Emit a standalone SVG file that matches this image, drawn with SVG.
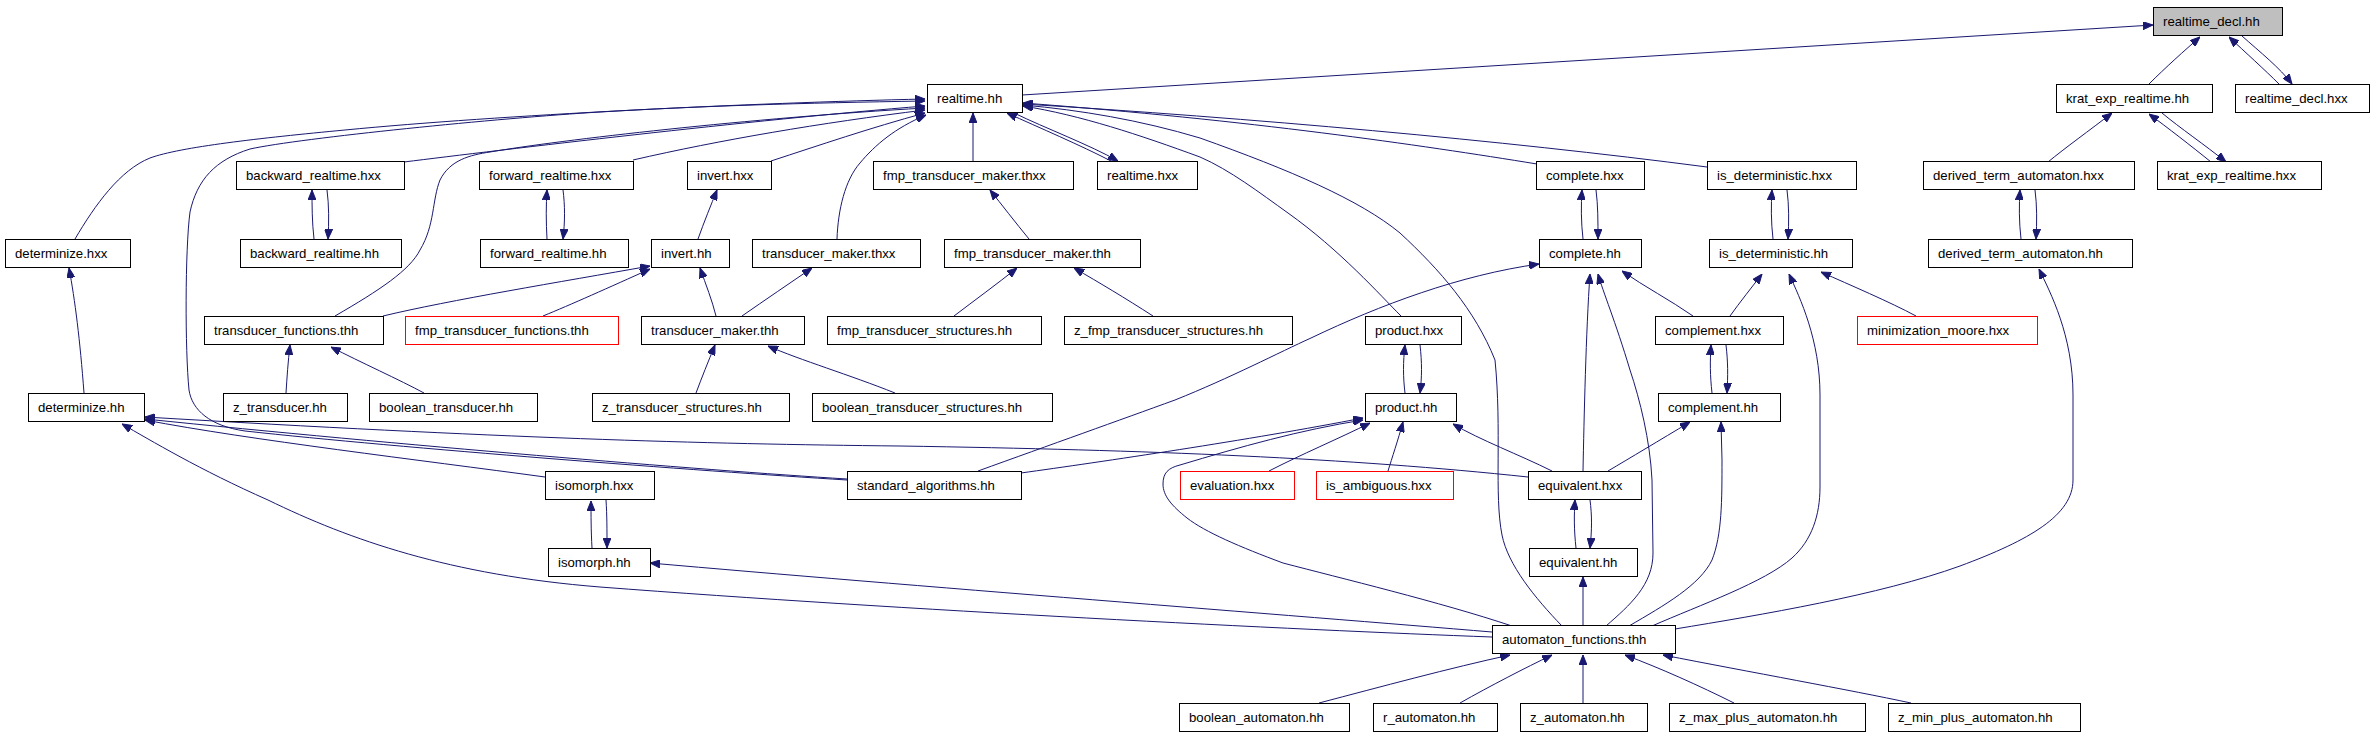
<svg xmlns="http://www.w3.org/2000/svg" width="2373" height="736" viewBox="0 0 2373 736">
<defs>
<style>
.b{fill:#ffffff;stroke:#000000;stroke-width:1}
.g{fill:#bfbfbf;stroke:#000000;stroke-width:1}
.r{fill:#ffffff;stroke:#ff0000;stroke-width:1}
text{font-family:"Liberation Sans",Arial,Helvetica,sans-serif;font-size:13.2px;fill:#000000}
#edges path{fill:none;stroke:#191970;stroke-width:1;marker-end:url(#ah)}
</style>
<marker id="ah" viewBox="0 0 10 8" refX="10" refY="4" markerWidth="10" markerHeight="8" orient="auto" markerUnits="userSpaceOnUse">
<path d="M0,0L10,4L0,8z" fill="#191970" stroke="#191970" stroke-width="1"/>
</marker>
</defs>
<rect width="2373" height="736" fill="#ffffff"/>
<g id="edges">
<path d="M1022,95 L2153,25"/>
<path d="M2149,84 C2165,68 2185,50 2200,37"/>
<path d="M2279,84 C2265,70 2245,52 2229,37"/>
<path d="M2242,36 C2260,52 2280,68 2292,84"/>
<path d="M2048,162 C2065,148 2090,130 2112,113"/>
<path d="M2211,162 C2190,145 2168,128 2149,114"/>
<path d="M2162,113 C2180,128 2205,145 2226,162"/>
<path d="M2021,239 C2019,222 2019,205 2020,190"/>
<path d="M2035,190 C2037,205 2037,222 2036,239"/>
<path d="M1675,629 C1760,615 1880,595 1960,566 C2030,540 2073,515 2073,480 L2073,395 C2073,335 2050,292 2039,269"/>
<path d="M1652,626 C1700,605 1765,582 1792,558 C1812,540 1820,515 1820,487 L1820,395 C1820,340 1800,298 1789,274"/>
<path d="M1730,316 C1740,302 1752,287 1762,274"/>
<path d="M1916,316 C1890,302 1850,285 1821,272"/>
<path d="M1773,239 C1771,222 1771,205 1772,190"/>
<path d="M1787,190 C1789,205 1789,222 1788,239"/>
<path d="M1583,239 C1581,222 1581,205 1582,190"/>
<path d="M1596,190 C1598,205 1598,222 1598,239"/>
<path d="M1583,471 C1584,420 1586,330 1590,274"/>
<path d="M1606,626 C1630,605 1653,585 1653,553 L1652,480 C1650,440 1640,400 1630,370 C1615,320 1603,292 1598,274"/>
<path d="M1693,316 C1670,300 1645,287 1622,271"/>
<path d="M978,471 C1050,445 1120,420 1175,400 C1230,378 1280,352 1311,338 C1380,305 1460,275 1539,264"/>
<path d="M1712,393 C1710,375 1710,362 1711,345"/>
<path d="M1726,345 C1728,362 1728,375 1727,393"/>
<path d="M1629,626 C1665,605 1700,585 1712,560 C1722,535 1722,500 1722,460 L1721,422"/>
<path d="M1608,471 C1630,458 1660,440 1690,422"/>
<path d="M1405,393 C1403,377 1403,362 1405,345"/>
<path d="M1420,345 C1422,362 1422,377 1420,393"/>
<path d="M1269,471 C1300,455 1340,438 1370,423"/>
<path d="M1388,471 C1392,458 1398,440 1403,422"/>
<path d="M1552,471 C1520,455 1480,440 1453,424"/>
<path d="M1021,473 C1100,462 1250,440 1363,418"/>
<path d="M1512,626 C1440,602 1340,578 1283,563 C1240,547 1205,532 1187,518 C1172,506 1163,496 1163,484 C1163,473 1168,468 1180,465 C1240,447 1300,430 1363,420"/>
<path d="M1576,548 C1574,530 1574,515 1575,500"/>
<path d="M1590,500 C1592,515 1592,530 1590,548"/>
<path d="M1583,626 L1583,577"/>
<path d="M1319,703 C1380,687 1450,668 1510,655"/>
<path d="M1460,703 C1490,686 1525,668 1552,655"/>
<path d="M1583,703 L1583,655"/>
<path d="M1734,703 C1700,686 1660,668 1625,655"/>
<path d="M1911,703 C1850,690 1750,672 1663,655"/>
<path d="M1492,632 C1300,616 900,585 650,563"/>
<path d="M1492,637 C1300,630 900,610 600,587 C450,575 350,540 268,500 C200,470 150,440 122,424"/>
<path d="M592,548 C591,530 591,515 591,501"/>
<path d="M606,500 C607,515 607,530 607,548"/>
<path d="M545,477 C420,460 250,440 145,420"/>
<path d="M847,479 C700,470 400,445 145,419"/>
<path d="M1528,477 C1350,458 1150,450 900,446 C700,444 500,438 145,417"/>
<path d="M847,480 C700,471 400,448 245,431 C210,426 192,410 189,390 C185,350 185,250 190,212 C197,180 215,160 250,149 C300,138 500,118 600,112 C700,106 800,103 925,101"/>
<path d="M75,239 C95,205 120,170 150,158 C180,147 260,138 345,130 C500,115 750,103 925,99"/>
<path d="M404,162 C500,150 750,120 925,106"/>
<path d="M335,316 C380,290 410,270 420,250 C435,225 432,200 440,180 C450,160 470,155 490,152 C560,140 750,118 925,108"/>
<path d="M633,160 C720,140 820,123 925,110"/>
<path d="M771,161 C820,145 870,128 925,113"/>
<path d="M837,239 C838,210 845,180 860,163 C875,145 895,128 926,115"/>
<path d="M973,161 L973,113"/>
<path d="M1111,161 C1080,145 1040,128 1007,113"/>
<path d="M1014,113 C1045,128 1090,145 1118,161"/>
<path d="M1537,164 C1420,145 1250,120 1023,103"/>
<path d="M1707,167 C1500,140 1250,118 1023,104"/>
<path d="M1562,626 C1535,598 1508,565 1502,535 C1494,495 1502,430 1495,360 C1475,310 1440,270 1400,233 C1360,200 1290,170 1200,138 C1140,120 1080,110 1023,105"/>
<path d="M1401,316 C1380,295 1340,250 1288,213 C1260,193 1230,170 1200,157 C1140,135 1080,115 1023,106"/>
<path d="M314,239 C312,222 312,205 312,190"/>
<path d="M327,190 C329,205 329,222 328,239"/>
<path d="M547,239 C546,222 546,205 547,190"/>
<path d="M563,190 C565,205 565,222 563,239"/>
<path d="M84,393 C80,340 75,300 69,268"/>
<path d="M286,393 C287,377 288,362 290,345"/>
<path d="M424,393 C400,380 360,362 331,347"/>
<path d="M383,316 C450,300 560,282 650,266"/>
<path d="M543,316 C570,305 610,287 650,269"/>
<path d="M716,316 C712,300 706,285 700,268"/>
<path d="M698,239 C704,222 711,205 717,190"/>
<path d="M742,316 C765,300 790,283 812,268"/>
<path d="M696,393 C702,377 708,362 715,345"/>
<path d="M895,393 C850,375 800,360 768,346"/>
<path d="M1029,239 C1015,222 1002,205 990,190"/>
<path d="M954,316 C975,300 997,284 1017,268"/>
<path d="M1153,316 C1125,298 1100,283 1074,268"/>
</g>
<g id="n_rdh"><rect class="g" x="2153.5" y="7.5" width="129" height="28"/><text x="2163" y="26">realtime_decl.hh</text></g>
<g id="n_rt"><rect class="b" x="927.5" y="84.5" width="95" height="28"/><text x="937" y="103">realtime.hh</text></g>
<g id="n_keh"><rect class="b" x="2056.5" y="84.5" width="156" height="28"/><text x="2066" y="103">krat_exp_realtime.hh</text></g>
<g id="n_rdx"><rect class="b" x="2235.5" y="84.5" width="134" height="28"/><text x="2245" y="103">realtime_decl.hxx</text></g>
<g id="n_brx"><rect class="b" x="236.5" y="161.5" width="168" height="28"/><text x="246" y="180">backward_realtime.hxx</text></g>
<g id="n_frx"><rect class="b" x="479.5" y="161.5" width="154" height="28"/><text x="489" y="180">forward_realtime.hxx</text></g>
<g id="n_ivx"><rect class="b" x="687.5" y="161.5" width="84" height="28"/><text x="697" y="180">invert.hxx</text></g>
<g id="n_fmx"><rect class="b" x="873.5" y="161.5" width="200" height="28"/><text x="883" y="180">fmp_transducer_maker.thxx</text></g>
<g id="n_rtx"><rect class="b" x="1097.5" y="161.5" width="100" height="28"/><text x="1107" y="180">realtime.hxx</text></g>
<g id="n_cpx"><rect class="b" x="1536.5" y="161.5" width="108" height="28"/><text x="1546" y="180">complete.hxx</text></g>
<g id="n_idx"><rect class="b" x="1707.5" y="161.5" width="149" height="28"/><text x="1717" y="180">is_deterministic.hxx</text></g>
<g id="n_dtx"><rect class="b" x="1923.5" y="161.5" width="211" height="28"/><text x="1933" y="180">derived_term_automaton.hxx</text></g>
<g id="n_kex"><rect class="b" x="2157.5" y="161.5" width="164" height="28"/><text x="2167" y="180">krat_exp_realtime.hxx</text></g>
<g id="n_dzx"><rect class="b" x="5.5" y="239.5" width="125" height="28"/><text x="15" y="258">determinize.hxx</text></g>
<g id="n_brh"><rect class="b" x="240.5" y="239.5" width="161" height="28"/><text x="250" y="258">backward_realtime.hh</text></g>
<g id="n_frh"><rect class="b" x="480.5" y="239.5" width="148" height="28"/><text x="490" y="258">forward_realtime.hh</text></g>
<g id="n_ivh"><rect class="b" x="651.5" y="239.5" width="78" height="28"/><text x="661" y="258">invert.hh</text></g>
<g id="n_tmx"><rect class="b" x="752.5" y="239.5" width="168" height="28"/><text x="762" y="258">transducer_maker.thxx</text></g>
<g id="n_fmh"><rect class="b" x="944.5" y="239.5" width="196" height="28"/><text x="954" y="258">fmp_transducer_maker.thh</text></g>
<g id="n_cph"><rect class="b" x="1539.5" y="239.5" width="102" height="28"/><text x="1549" y="258">complete.hh</text></g>
<g id="n_idh"><rect class="b" x="1709.5" y="239.5" width="143" height="28"/><text x="1719" y="258">is_deterministic.hh</text></g>
<g id="n_dth"><rect class="b" x="1928.5" y="239.5" width="204" height="28"/><text x="1938" y="258">derived_term_automaton.hh</text></g>
<g id="n_tfh"><rect class="b" x="204.5" y="316.5" width="179" height="28"/><text x="214" y="335">transducer_functions.thh</text></g>
<g id="n_fth"><rect class="r" x="405.5" y="316.5" width="213" height="28"/><text x="415" y="335">fmp_transducer_functions.thh</text></g>
<g id="n_tmh"><rect class="b" x="641.5" y="316.5" width="163" height="28"/><text x="651" y="335">transducer_maker.thh</text></g>
<g id="n_fsh"><rect class="b" x="827.5" y="316.5" width="214" height="28"/><text x="837" y="335">fmp_transducer_structures.hh</text></g>
<g id="n_zfs"><rect class="b" x="1064.5" y="316.5" width="228" height="28"/><text x="1074" y="335">z_fmp_transducer_structures.hh</text></g>
<g id="n_pdx"><rect class="b" x="1365.5" y="316.5" width="96" height="28"/><text x="1375" y="335">product.hxx</text></g>
<g id="n_cmx"><rect class="b" x="1655.5" y="316.5" width="128" height="28"/><text x="1665" y="335">complement.hxx</text></g>
<g id="n_mmx"><rect class="r" x="1857.5" y="316.5" width="180" height="28"/><text x="1867" y="335">minimization_moore.hxx</text></g>
<g id="n_dzh"><rect class="b" x="28.5" y="393.5" width="116" height="28"/><text x="38" y="412">determinize.hh</text></g>
<g id="n_zth"><rect class="b" x="223.5" y="393.5" width="124" height="28"/><text x="233" y="412">z_transducer.hh</text></g>
<g id="n_bth"><rect class="b" x="369.5" y="393.5" width="168" height="28"/><text x="379" y="412">boolean_transducer.hh</text></g>
<g id="n_zts"><rect class="b" x="592.5" y="393.5" width="197" height="28"/><text x="602" y="412">z_transducer_structures.hh</text></g>
<g id="n_bts"><rect class="b" x="812.5" y="393.5" width="240" height="28"/><text x="822" y="412">boolean_transducer_structures.hh</text></g>
<g id="n_pdh"><rect class="b" x="1365.5" y="393.5" width="91" height="28"/><text x="1375" y="412">product.hh</text></g>
<g id="n_cmh"><rect class="b" x="1658.5" y="393.5" width="122" height="28"/><text x="1668" y="412">complement.hh</text></g>
<g id="n_isx"><rect class="b" x="545.5" y="471.5" width="109" height="28"/><text x="555" y="490">isomorph.hxx</text></g>
<g id="n_sah"><rect class="b" x="847.5" y="471.5" width="174" height="28"/><text x="857" y="490">standard_algorithms.hh</text></g>
<g id="n_evx"><rect class="r" x="1180.5" y="471.5" width="114" height="28"/><text x="1190" y="490">evaluation.hxx</text></g>
<g id="n_iax"><rect class="r" x="1316.5" y="471.5" width="137" height="28"/><text x="1326" y="490">is_ambiguous.hxx</text></g>
<g id="n_eqx"><rect class="b" x="1528.5" y="471.5" width="113" height="28"/><text x="1538" y="490">equivalent.hxx</text></g>
<g id="n_ish"><rect class="b" x="548.5" y="548.5" width="102" height="28"/><text x="558" y="567">isomorph.hh</text></g>
<g id="n_eqh"><rect class="b" x="1529.5" y="548.5" width="108" height="28"/><text x="1539" y="567">equivalent.hh</text></g>
<g id="n_aft"><rect class="b" x="1492.5" y="625.5" width="183" height="28"/><text x="1502" y="644">automaton_functions.thh</text></g>
<g id="n_bah"><rect class="b" x="1179.5" y="703.5" width="170" height="28"/><text x="1189" y="722">boolean_automaton.hh</text></g>
<g id="n_rah"><rect class="b" x="1373.5" y="703.5" width="124" height="28"/><text x="1383" y="722">r_automaton.hh</text></g>
<g id="n_zah"><rect class="b" x="1520.5" y="703.5" width="127" height="28"/><text x="1530" y="722">z_automaton.hh</text></g>
<g id="n_zmx"><rect class="b" x="1669.5" y="703.5" width="196" height="28"/><text x="1679" y="722">z_max_plus_automaton.hh</text></g>
<g id="n_zmn"><rect class="b" x="1888.5" y="703.5" width="192" height="28"/><text x="1898" y="722">z_min_plus_automaton.hh</text></g>
</svg>
